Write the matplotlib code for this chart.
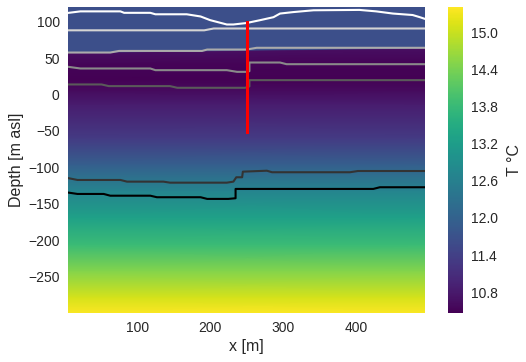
import numpy as np
import matplotlib
matplotlib.use("Agg")
import matplotlib.pyplot as plt

plt.rcParams['font.family'] = ['Liberation Sans', 'DejaVu Sans']
plt.rcParams['text.color'] = '.15'
plt.rcParams['axes.labelcolor'] = '.15'
plt.rcParams['xtick.color'] = '.15'
plt.rcParams['ytick.color'] = '.15'

# ---- temperature field (columns at left / right edge, rows by depth) ----
x_cols = [5, 495]
z_left = [120, 57, 56, 40, 20, 5, -15, -60, -97, -133, -170, -207, -243, -279, -300]
z_right = [120, 63, 62, 44, 22, 5, -15, -60, -97, -133, -170, -207, -243, -279, -300]
T_profile = [11.65, 11.65, 10.65, 10.5, 10.47, 10.6, 10.85, 11.3, 11.95, 12.7,
             13.3, 13.85, 14.5, 15.1, 15.4]
t_min, t_max = 10.46, 15.42
cbar_ticks = [10.8, 11.4, 12.0, 12.6, 13.2, 13.8, 14.4, 15.0]

# ---- layer boundary lines ----
line1_x = [6, 22, 77, 82, 118, 125, 168, 187, 200, 223, 232, 250, 269, 287, 296, 314, 342, 405, 428, 451, 478, 488, 494]
line1_z = [112, 114, 114, 112, 112, 110, 110, 107, 102, 96, 96, 98, 102, 106, 111, 113, 115.5, 116, 114, 111, 109, 106, 104]
line2_x = [6, 192, 205, 494]
line2_z = [88, 88, 90.5, 90.5]
line3_x = [6, 63, 75, 189, 196, 250, 264, 494]
line3_z = [57.5, 57.5, 59.7, 59.7, 61.6, 61.6, 64, 64]
line4_x = [6, 22, 118, 125, 223, 237, 250, 254, 254, 296, 305, 494]
line4_z = [37.8, 35.6, 35.6, 33.3, 33.3, 31, 31, 32, 43.8, 43.8, 41.5, 41.5]
line5_x = [6, 51, 61, 145, 155, 248, 254, 254, 494]
line5_z = [13.7, 13.7, 11.4, 11.4, 9.1, 9.1, 11, 19.6, 19.6]
line6_x = [6, 18, 77, 86, 136, 145, 223, 232, 236, 244, 245, 278, 285, 392, 403, 494]
line6_z = [-115, -117.4, -117.4, -119.7, -119.7, -121.1, -121.1, -119.7, -113.7, -113.7, -106, -104.7, -106.8, -106.8, -105.1, -105.1]
line7_x = [6, 18, 54, 63, 118, 127, 187, 196, 225, 235, 235, 424, 433, 494]
line7_z = [-134.8, -136.6, -136.6, -139, -139, -141.1, -141.1, -143.4, -143.4, -142.5, -129.7, -129.7, -127.4, -127.4]
line_colors = ['#ffffff', '#d4d4d4', '#ababab', '#8a8a8a', '#5a5a5a', '#333333', '#000000']

# ---- borehole ----
well_x = 250
well_top, well_bottom = 100, -51

fig = plt.figure(figsize=(5.26, 3.62), dpi=100)
ax = fig.add_axes([68 / 526, 49 / 362, 357 / 526, 306 / 362])
cax = fig.add_axes([448 / 526, 49 / 362, 15 / 526, 306 / 362])

X = np.array([[x_cols[0], x_cols[1]]] * len(z_left), dtype=float)
Z = np.column_stack([z_left, z_right]).astype(float)
T = np.column_stack([T_profile, T_profile]).astype(float)
mesh = ax.pcolormesh(X, Z, T, shading='gouraud', cmap='viridis', vmin=t_min, vmax=t_max)

lines = [(line1_x, line1_z), (line2_x, line2_z), (line3_x, line3_z), (line4_x, line4_z),
         (line5_x, line5_z), (line6_x, line6_z), (line7_x, line7_z)]
for (lx, lz), c in zip(lines, line_colors):
    ax.plot(lx, lz, color=c, lw=1.5, solid_joinstyle='round')

ax.plot([well_x, well_x], [well_top, well_bottom], color='red', lw=2.2)

ax.set_xlim(5, 495)
ax.set_ylim(-300, 120)
ax.set_xticks([100, 200, 300, 400])
ax.set_yticks([-250, -200, -150, -100, -50, 0, 50, 100])
ax.tick_params(length=0, labelsize=10, pad=6)
for s in ax.spines.values():
    s.set_visible(False)
ax.set_xlabel('x [m]', fontsize=11.5, labelpad=3)
ax.set_ylabel('Depth [m asl]', fontsize=11.5, labelpad=3)

cb = fig.colorbar(mesh, cax=cax, ticks=cbar_ticks)
cb.outline.set_visible(False)
cb.ax.tick_params(length=0, labelsize=10, pad=6)
cb.ax.set_yticklabels([f'{t:.1f}' for t in cbar_ticks])
cb.set_label('T °C', fontsize=11.5, labelpad=6)

fig.savefig('out.png', dpi=100)
